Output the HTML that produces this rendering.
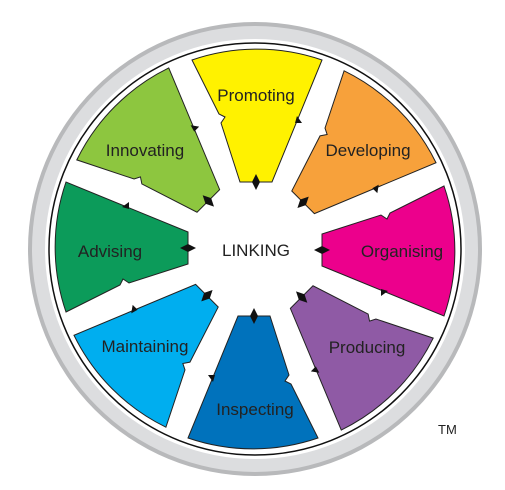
<!DOCTYPE html>
<html><head><meta charset="utf-8"><style>
html,body{margin:0;padding:0;background:#fff;}
svg{display:block;}
text{font-family:"Liberation Sans","DejaVu Sans",sans-serif;}
</style></head><body>
<svg width="505" height="490" viewBox="0 0 505 490">
  <circle cx="255" cy="249" r="227" fill="#b8b9bb"/>
  <circle cx="255" cy="249" r="223" fill="#dcdddf"/>
  <circle cx="255" cy="249" r="210" fill="#fff"/>
  <circle cx="255" cy="249" r="206" fill="none" stroke="#111" stroke-width="1.5"/>
  <g id="segs" transform="translate(255,249)"></g>
  <text x="256" y="256" font-size="17" text-anchor="middle" fill="#222">LINKING</text>
  <text x="438" y="434" font-size="13" fill="#222">TM</text>
</svg>
<script>
const labels=["Promoting","Developing","Organising","Producing","Inspecting","Maintaining","Advising","Innovating"];
const colors=["#fff200","#f7a13b","#ec008c","#8f5aa5","#0072bc","#00aeef","#0c9b5a","#8dc63f"];
const labelPos=[[256,101],[368,156],[402,257],[367,353],[255,415],[145,352],[110,257],[145,156]];
const ns="http://www.w3.org/2000/svg";
const g=document.getElementById('segs');
const svg=document.querySelector('svg');
labels.forEach((l,i)=>{
  const grp=document.createElementNS(ns,'g');
  grp.setAttribute('transform','rotate('+(i*45)+')');
  
  
  const p=document.createElementNS(ns,'path');
  p.setAttribute('d','M -63 -189 A 200 200 0 0 1 67 -189 L 17 -67 L -15 -67 L -34 -126 L -30 -132 L -36 -135 Z');
  p.setAttribute('fill',colors[i]);
  p.setAttribute('stroke','#222');
  p.setAttribute('stroke-width','1');
  
  
  grp.appendChild(p);
  const d=document.createElementNS(ns,'path');
  d.setAttribute('d','M 1 -75 L 5 -67 L 1 -59 L -3 -67 Z');
  d.setAttribute('fill','#111');
  
  
  grp.appendChild(d);
  const a=document.createElementNS(ns,'path');
  a.setAttribute('d','M 42 -133 L 47 -126 L 40 -126 Z');
  a.setAttribute('fill','#111');
  
  
  grp.appendChild(a);
  g.appendChild(grp);
  const t=document.createElementNS(ns,'text');
  t.setAttribute('x',labelPos[i][0]);
  t.setAttribute('y',labelPos[i][1]);
  t.setAttribute('font-size','17');
  t.setAttribute('text-anchor','middle');
  t.setAttribute('fill','#222');
  
  
  t.textContent=l;
  svg.appendChild(t);
});
</script>
</body></html>
